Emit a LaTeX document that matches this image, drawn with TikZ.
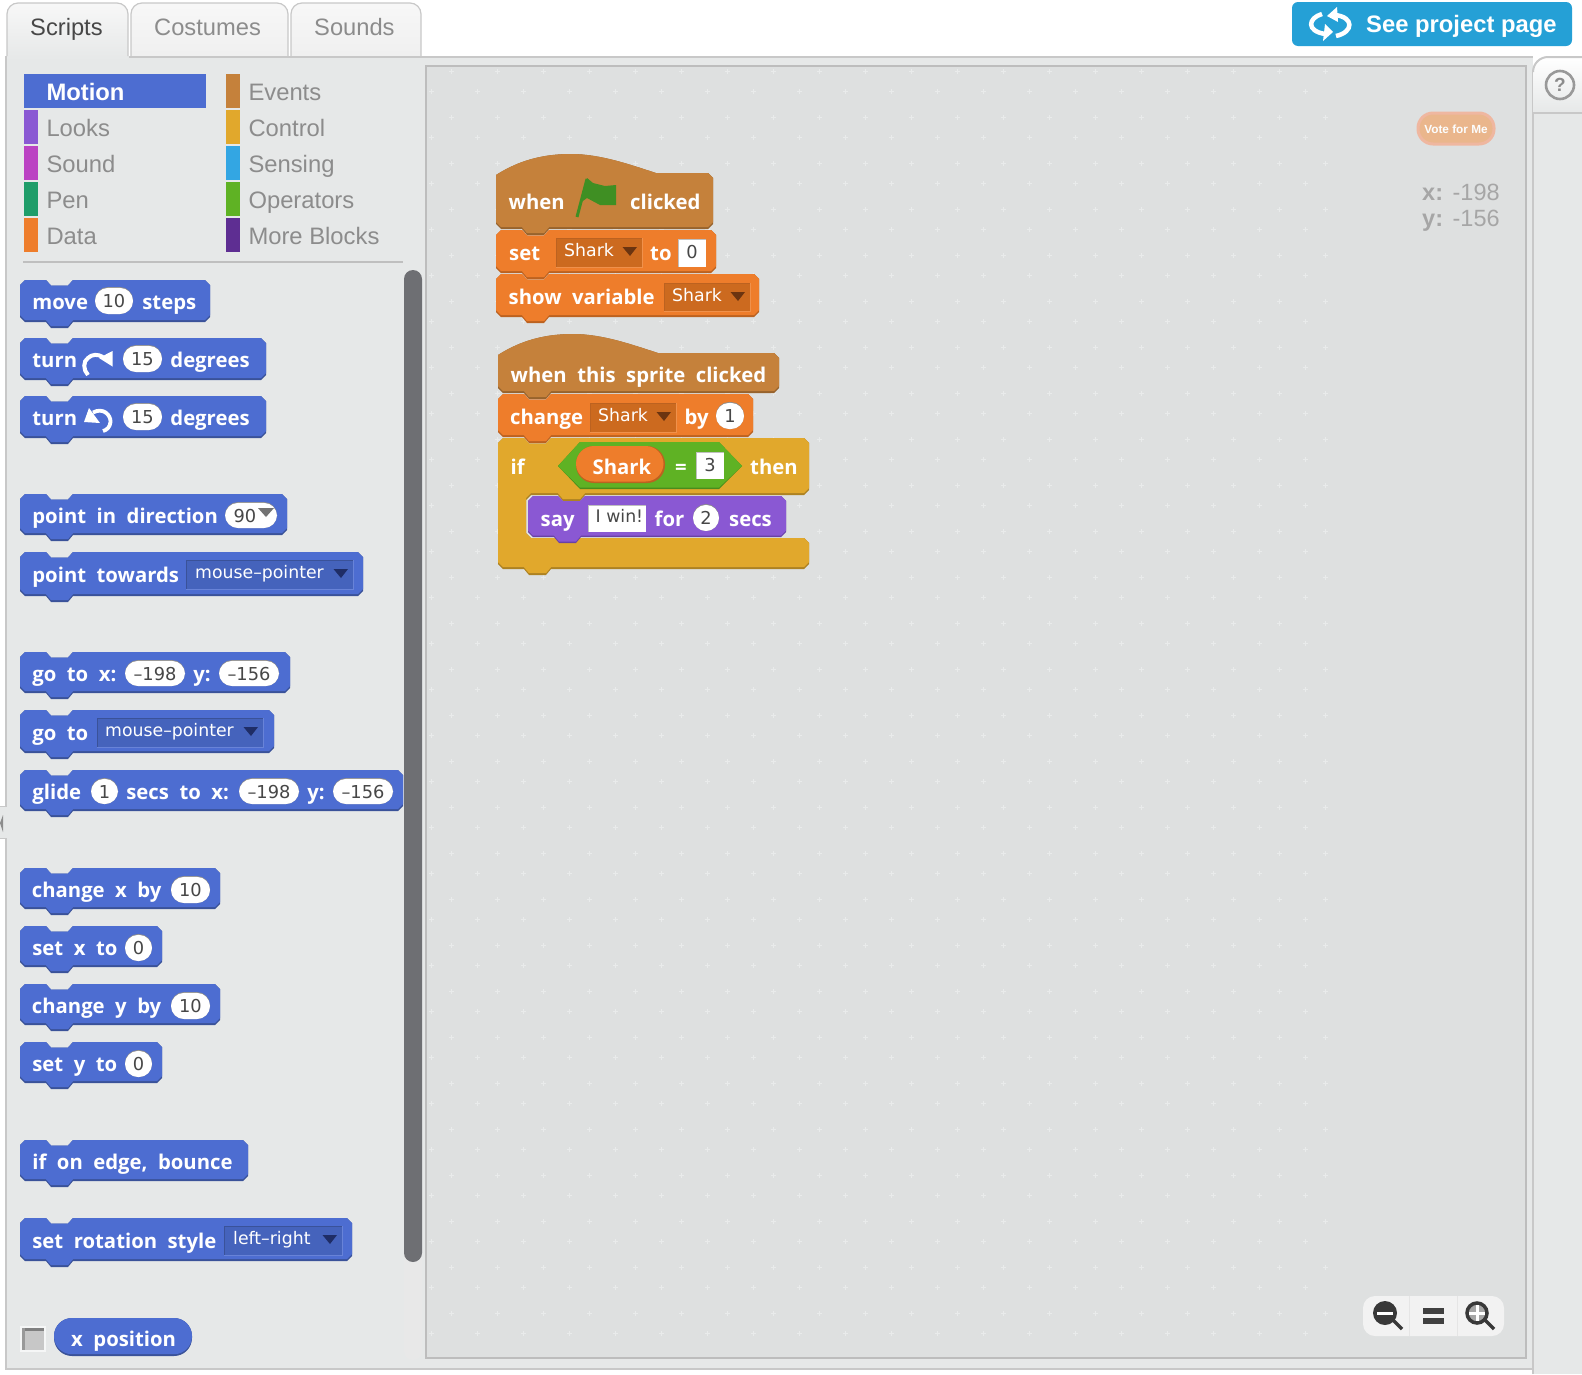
\documentclass[tikz,border=0pt]{standalone}
\usepackage{fontspec}
\setmainfont{Liberation Sans}
\newfontfamily\skblockfont{Open Sans}
\newfontfamily\skinputfont{DejaVu Sans}
\definecolor{panelbg}{HTML}{E6E8E8}
\definecolor{stagebg}{HTML}{DEE0E0}
\definecolor{edgegrey}{HTML}{C8C8C8}
\definecolor{mblue}{HTML}{4D6DD1}
\definecolor{mbluedk}{HTML}{3A5299}
\definecolor{dropblue}{HTML}{4563BC}
\definecolor{mpurple}{HTML}{8A58D3}
\definecolor{mpurpledk}{HTML}{6A41A6}
\definecolor{morange}{HTML}{EE7D2B}
\definecolor{morangedk}{HTML}{BC6220}
\definecolor{droporange}{HTML}{CC6A1F}
\definecolor{mhat}{HTML}{C5813B}
\definecolor{mhatdk}{HTML}{97632D}
\definecolor{mgold}{HTML}{E1A82C}
\definecolor{mgolddk}{HTML}{AD8222}
\definecolor{mgreen}{HTML}{5FB224}
\definecolor{mgreendk}{HTML}{4A8C1C}
\definecolor{msound}{HTML}{BB42C3}
\definecolor{mpen}{HTML}{1F9D69}
\definecolor{msense}{HTML}{33A6E3}
\definecolor{mmore}{HTML}{5E2E92}
\definecolor{btnblue}{HTML}{25A0D6}
\definecolor{flaggreen}{HTML}{3F8F23}
\definecolor{voteedge}{HTML}{EFB7A0}
\definecolor{votefill}{HTML}{EAB68C}
\definecolor{scrolldk}{HTML}{6E6F73}
\definecolor{tridkblue}{HTML}{1F2D66}
\definecolor{tridkorange}{HTML}{6B3410}
\tikzset{
  x=1pt,y=-1pt,
  tabtext/.style={anchor=base west,inner sep=0pt,font=\fontsize{23.7}{28}\selectfont},
  cattext/.style={anchor=base west,inner sep=0pt,text=black!45,font=\fontsize{23.8}{28}\selectfont},
  blocktext/.style={anchor=base west,inner sep=0pt,yshift=-1.4pt,text=white,font={\skblockfont\bfseries\fontsize{20.3}{24}\selectfont\spaceskip=10.5pt\relax}},
  inputtext/.style={anchor=base,inner sep=0pt,text=black!72,font={\skinputfont\fontsize{17.8}{20}\selectfont}},
  droptext/.style={anchor=base west,inner sep=0pt,text=white,font={\skinputfont\fontsize{17.3}{20}\selectfont}},
  coordtext/.style={anchor=base west,inner sep=0pt,text=black!35,font=\fontsize{23.5}{28}\selectfont},
  gridplus/.style={draw=panelbg!88!white,line width=1pt},
}
\newcounter{sknode}
\newcommand\skText[4]{\stepcounter{sknode}\node[#1] (n\arabic{sknode}) at (#2,#3) {#4};}
\newcommand\skPath[4]{({#1+5},#2) -- ({#1+26},#2) -- ({#1+31},{#2+5.5}) -- ({#1+48},{#2+5.5}) -- ({#1+53},#2) -- ({#3-5},#2) -- (#3,{#2+5}) -- (#3,{#4-5}) -- ({#3-5},#4) -- ({#1+53},#4) -- ({#1+48},{#4+6}) -- ({#1+31},{#4+6}) -- ({#1+26},#4) -- ({#1+5},#4) -- (#1,{#4-5}) -- (#1,{#2+5}) -- cycle}
\newcommand\skBlock[6]{\fill[#6] \skPath{#1}{#2}{#3}{#4}; \fill[#5] \skPath{#1}{#2}{#3}{#4-1.8};}
\newcommand\skHatPath[5]{(#1,#2) .. controls ({#1+25},{#2-16}) and ({#1+50},#3) .. ({#1+75},#3) .. controls ({#1+105},#3) and ({#1+135},{#2-10}) .. ({#1+160},{#2-2}) -- ({#4-5},{#2-2}) -- (#4,{#2+3}) -- (#4,{#5-5}) -- ({#4-5},#5) -- ({#1+53},#5) -- ({#1+48},{#5+6}) -- ({#1+31},{#5+6}) -- ({#1+26},#5) -- ({#1+5},#5) -- (#1,{#5-5}) -- cycle}
\newcommand\skHat[5]{\fill[mhatdk] \skHatPath{#1}{#2}{#3}{#4}{#5}; \fill[mhat] \skHatPath{#1}{#2}{#3}{#4}{#5-1.8};}
% pill outline only
\newcommand\skPillBody[4]{\fill[black!45,rounded corners=13pt] (#1,#2) rectangle (#3,#4);
  \fill[white,rounded corners=13pt] ({#1},{#2+0.9}) rectangle (#3,#4);}
% pill input: x1 y1 x2 y2 text
\newcommand\skPill[5]{\skPillBody{#1}{#2}{#3}{#4}
  \skText{inputtext}{{(#1+#3)/2}}{{#2+20}}{#5}}
% square input
\newcommand\skBox[5]{\fill[white] (#1,#2) rectangle (#3,#4);
  \draw[black!25,line width=1pt] (#1,#4) -- (#1,#2) -- (#3,#2);
  \skText{inputtext}{{(#1+#3)/2}}{{#2+19.3}}{#5}}
% dropdown: x1 y1 x2 y2 text-x text fill dark light
\newcommand\skDrop[9]{\fill[#7] (#1,#2) rectangle (#3,#4);
  \draw[#8,line width=1pt] (#1,#4) -- (#1,#2) -- (#3,#2);
  \draw[#9,line width=1pt] (#1,#4) -- (#3,#4) -- (#3,#2);
  \skText{droptext}{#5}{{#2+18.5}}{#6}}
\newcommand\skTri[3]{\fill[#3] ({#1-19.5},{#2+9}) -- ({#1-5},{#2+9}) -- ({#1-12},{#2+18}) -- cycle;}
\begin{document}
\begin{tikzpicture}
\useasboundingbox (0,0) rectangle (1582,1374);
\fill[white] (0,0) rectangle (1582,1374);
% panels
\fill[panelbg] (6,56) rectangle (1533,1369);
\fill[panelbg] (1533,113) rectangle (1582,1374);
% tabs (y axis points down, so 270 is the top of a circle)
\draw[edgegrey,line width=1.2pt,top color=white!97!black,bottom color=black!6] (131,56) -- (131,14) arc[start angle=180,end angle=270,radius=11] -- (277,3) arc[start angle=270,end angle=360,radius=11] -- (288,56);
\draw[edgegrey,line width=1.2pt,top color=white!97!black,bottom color=black!6] (291,56) -- (291,14) arc[start angle=180,end angle=270,radius=11] -- (410,3) arc[start angle=270,end angle=360,radius=11] -- (421,56);
\path[top color=white!97!black,bottom color=panelbg] (7,60) -- (7,14) arc[start angle=180,end angle=270,radius=11] -- (117,3) arc[start angle=270,end angle=360,radius=11] -- (128,60) -- cycle;
\draw[edgegrey,line width=1.2pt] (7,56) -- (7,14) arc[start angle=180,end angle=270,radius=11] -- (117,3) arc[start angle=270,end angle=360,radius=11] -- (128,56);
\draw[edgegrey,line width=2pt] (129,57) -- (1533,57);
\draw[edgegrey,line width=2pt] (6,56) -- (6,806);
\draw[edgegrey,line width=2pt] (6,838) -- (6,1369) -- (1533,1369);
\draw[edgegrey,line width=2pt] (1533,1374) -- (1533,72);
\skText{tabtext,text=black!72}{30}{35}{Scripts}
\skText{tabtext,text=black!45}{154}{35}{Costumes}
\skText{tabtext,text=black!45}{314}{35}{Sounds}
% collapse handle
\fill[panelbg] (0,806) rectangle (7,838);
\draw[edgegrey,line width=1pt] (0,806) -- (7,806) (0,838) -- (7,838);
\fill[black!45] (0,823) -- (3,815) -- (3,832) -- cycle;
% see project page
\fill[btnblue,rounded corners=6pt] (1292,2) rectangle (1572,46);
\draw[white,line width=4.5pt] (1322,14) .. controls (1308,18) and (1306,31) .. (1325,34);
\fill[white] (1325,24) -- (1333,32) -- (1323,41) -- cycle;
\draw[white,line width=4.5pt] (1336,36) .. controls (1354,32) and (1354,17) .. (1335,15);
\fill[white] (1337,7) -- (1327,16) -- (1338,22) -- cycle;
\skText{anchor=base west,inner sep=0pt,text=white,font={\bfseries\fontsize{23.8}{28}\selectfont}}{1366}{32}{See project page}
% help tab
\path[top color=white,bottom color=panelbg] (1533,113) -- (1533,72) arc[start angle=180,end angle=270,radius=15] -- (1582,57) -- (1582,113) -- cycle;
\draw[edgegrey,line width=2pt] (1533,72) arc[start angle=180,end angle=270,radius=15] -- (1582,57);
\draw[edgegrey,line width=2pt] (1533,113) -- (1582,113);
\draw[black!40,line width=2.6pt] (1560,85) circle[radius=14];
\skText{anchor=center,inner sep=0pt,text=black!45,font={\bfseries\fontsize{19}{22}\selectfont}}{1560}{85}{?}
% stage
\fill[stagebg] (426,66) rectangle (1526,1358);
\begin{scope}
\clip (426,66) rectangle (1526,1358);
\foreach \i in {0,...,19} \foreach \j in {0,...,27} {
  \draw[gridplus] ({1325-46*\i-2.5},{71+46*\j}) -- ++(5,0) ({1325-46*\i},{71+46*\j-2.5}) -- ++(0,5);
  \draw[gridplus] ({1305-46*\i-2.5},{91+46*\j}) -- ++(5,0) ({1305-46*\i},{91+46*\j-2.5}) -- ++(0,5);
}
\end{scope}
\draw[black!26,line width=1.4pt] (426,66) rectangle (1526,1358);
% categories
\fill[mblue] (24,74) rectangle (206,108);
\fill[mpurple] (24,110) rectangle (38,144);
\fill[msound] (24,146) rectangle (38,180);
\fill[mpen] (24,182) rectangle (38,216);
\fill[morange] (24,218) rectangle (38,252);
\fill[mhat] (226,74) rectangle (240,108);
\fill[mgold] (226,110) rectangle (240,144);
\fill[msense] (226,146) rectangle (240,180);
\fill[mgreen] (226,182) rectangle (240,216);
\fill[mmore] (226,218) rectangle (240,252);
\skText{anchor=base west,inner sep=0pt,text=white,font={\bfseries\fontsize{23.8}{28}\selectfont}}{46.3}{100}{Motion}
\skText{cattext}{46.3}{136}{Looks}
\skText{cattext}{46.3}{172}{Sound}
\skText{cattext}{46.3}{208}{Pen}
\skText{cattext}{46.3}{244}{Data}
\skText{cattext}{248.3}{100}{Events}
\skText{cattext}{248.3}{136}{Control}
\skText{cattext}{248.3}{172}{Sensing}
\skText{cattext}{248.3}{208}{Operators}
\skText{cattext}{248.3}{244}{More Blocks}
\draw[black!25,line width=1.6pt] (23,262) -- (403,262);
% scrollbar
\fill[black!9,rounded corners=9pt] (404,270) rectangle (422,1360);
\fill[scrolldk,rounded corners=9pt] (404,270) rectangle (422,1262);
% palette blocks
\begin{scope}[blocktext/.append style={xshift=-0.8pt}]
\skBlock{20}{280}{210}{322}{mblue}{mbluedk}
\skText{blocktext}{33}{308}{move}
\skPill{95}{287}{133}{314}{10}
\skText{blocktext}{143}{308}{steps}

\skBlock{20}{338}{266}{380}{mblue}{mbluedk}
\skText{blocktext}{33}{366}{turn}
\draw[white,line width=4pt] (88,375) .. controls (83,370) and (83,361) .. (88,358) .. controls (92,354) and (98,354) .. (103,357);
\fill[white] (99,358) -- (112.5,351) -- (112.5,366.5) -- cycle;
\skPill{123}{345}{162}{372}{15}
\skText{blocktext}{171}{366}{degrees}

\skBlock{20}{396}{266}{438}{mblue}{mbluedk}
\skText{blocktext}{33}{424}{turn}
\draw[white,line width=3.8pt] (93,412.5) .. controls (103,407) and (111,415) .. (110.5,422) .. controls (110,427) and (107,430) .. (103,431);
\fill[white] (84,422) -- (89,408) -- (100,423) -- cycle;
\skPill{123}{403}{162}{430}{15}
\skText{blocktext}{171}{424}{degrees}

\skBlock{20}{494}{287}{535}{mblue}{mbluedk}
\skText{blocktext}{33}{522}{point in direction}
\skPillBody{225}{502}{277}{528}
\skText{inputtext}{245}{522}{90}
\fill[black!55] (258,508) -- (274,508) -- (266,517) -- cycle;

\skBlock{20}{552}{363}{596}{mblue}{mbluedk}
\skText{blocktext}{33}{581}{point towards}
\skDrop{186}{560}{353}{589}{195}{mouse–pointer}{dropblue}{mbluedk}{mblue!85!white}
\skTri{353}{560}{tridkblue}

\skBlock{20}{652}{290}{693}{mblue}{mbluedk}
\skText{blocktext}{33}{680}{go to x:}
\skPill{125}{660}{185}{686}{–198}
\skText{blocktext}{194}{680}{y:}
\skPill{219}{660}{279}{686}{–156}

\skBlock{20}{710}{274}{753}{mblue}{mbluedk}
\skText{blocktext}{33}{739}{go to}
\skDrop{97}{718}{263}{747}{105}{mouse–pointer}{dropblue}{mbluedk}{mblue!85!white}
\skTri{263}{718}{tridkblue}

\skBlock{20}{770}{403}{811}{mblue}{mbluedk}
\skText{blocktext}{33}{798}{glide}
\skPill{91}{778}{118}{804}{1}
\skText{blocktext}{127}{798}{secs to x:}
\skPill{239}{778}{299}{804}{–198}
\skText{blocktext}{308}{798}{y:}
\skPill{333}{778}{393}{804}{–156}

\skBlock{20}{868}{220}{909}{mblue}{mbluedk}
\skText{blocktext}{32.5}{896}{change x by}
\skPill{171}{876}{210}{903}{10}
\skBlock{20}{926}{162}{967}{mblue}{mbluedk}
\skText{blocktext}{33}{954}{set x to}
\skPill{125}{934}{152}{961}{0}
\skBlock{20}{984}{220}{1025}{mblue}{mbluedk}
\skText{blocktext}{32.5}{1012}{change y by}
\skPill{171}{992}{210}{1019}{10}
\skBlock{20}{1042}{162}{1083}{mblue}{mbluedk}
\skText{blocktext}{33}{1070}{set y to}
\skPill{125}{1050}{152}{1077}{0}

\skBlock{20}{1140}{248}{1181}{mblue}{mbluedk}
\skText{blocktext}{33}{1168}{if on edge, bounce}

\skBlock{20}{1218}{352}{1261}{mblue}{mbluedk}
\skText{blocktext}{33}{1247}{set rotation style}
\skDrop{224}{1226}{342}{1255}{233}{left–right}{dropblue}{mbluedk}{mblue!85!white}
\skTri{342}{1226}{tridkblue}
\end{scope}

% checkbox and reporter
\fill[white!60!panelbg] (20,1326) rectangle (46,1352);
\fill[black!22] (22,1328) rectangle (44,1350);
\fill[black!50] (22,1328) rectangle (44,1331);
\fill[black!40] (22,1328) rectangle (25,1350);
\fill[mbluedk,rounded corners=18pt] (54,1318) rectangle (192,1356);
\fill[mblue,rounded corners=18pt] (54,1318) rectangle (192,1354.2);
\skText{blocktext}{71}{1345}{x position}

% script 1
\skHat{496}{175}{154}{713}{229}
\skText{blocktext}{508.5}{208}{when}
\skText{blocktext}{630}{208}{clicked}
\draw[flaggreen,line width=3pt] (577,217) -- (587,179);
\fill[flaggreen] (587,178) -- (593,183) -- (605,186) -- (616,185) -- (616,205) -- (600,205) -- (587,198) -- (580,203) -- cycle;
\skBlock{496}{230}{716}{273}{morange}{morangedk}
\skText{blocktext}{509}{259}{set}
\skDrop{556}{238}{642}{267}{564}{Shark}{droporange}{morangedk}{morange!85!white}
\skTri{642}{238}{tridkorange}
\skText{blocktext}{650}{259}{to}
\skBox{678}{239}{706}{267}{0}
\skBlock{496}{274}{759}{317}{morange}{morangedk}
\skText{blocktext}{508.5}{303}{show variable}
\skDrop{664}{283}{750}{311}{672}{Shark}{droporange}{morangedk}{morange!85!white}
\skTri{750}{283}{tridkorange}

% script 2
\skHat{498}{355}{334}{779}{393}
\skText{blocktext}{510.5}{381}{when this sprite clicked}
\skBlock{498}{394}{753}{437}{morange}{morangedk}
\skText{blocktext}{510}{423}{change}
\skDrop{590}{403}{676}{432}{598}{Shark}{droporange}{morangedk}{morange!85!white}
\skTri{676}{403}{tridkorange}
\skText{blocktext}{684.5}{423}{by}
\skPill{716}{402}{744}{429}{1}
% if block: dark copy, then main
\foreach \c/\o in {mgolddk/0,mgold/1.8} {
\fill[\c] (503,438) -- (524,438) -- (529,443.5) -- (546,443.5) -- (551,438) -- (804,438) -- (809,443) -- (809,{495-5-\o}) -- (804,{495-\o}) -- (585,{495-\o}) -- (580,{501-\o}) -- (563,{501-\o}) -- (558,{495-\o}) -- (531,{495-\o}) -- (526,{500-\o}) -- (526,533) -- (531,538) -- (804,538) -- (809,543) -- (809,{569-5-\o}) -- (804,{569-\o}) -- (551,{569-\o}) -- (546,{575-\o}) -- (529,{575-\o}) -- (524,{569-\o}) -- (503,{569-\o}) -- (498,{564-\o}) -- (498,443) -- cycle;
}
\skText{blocktext}{510.5}{473}{if}
\fill[mgreendk] (558,466) -- (580,442) -- (719,442) -- (742,466) -- (719,489) -- (580,489) -- cycle;
\fill[mgreen] (558,466) -- (580,442) -- (719,442) -- (742,466) -- (719,487.5) -- (580,487.5) -- cycle;
\fill[morangedk,rounded corners=18pt] (576,446) rectangle (665,483);
\fill[morange,rounded corners=18pt] (576,446) rectangle (663.5,481.5);
\skText{blocktext}{592.5}{473}{Shark}
\skText{blocktext}{675}{473}{=}
\skBox{696}{452}{724}{479}{3}
\skText{blocktext}{750}{473}{then}
\fill[mpurpledk] (533,496) -- (558,496) -- (563,501) -- (580,501) -- (585,496) -- (781,496) -- (786,501) -- (786,532) -- (781,537) -- (581,537) -- (576,543) -- (559,543) -- (554,537) -- (533,537) -- (528,532) -- (528,501) -- cycle;
\fill[mpurple] (533,496) -- (558,496) -- (563,501) -- (580,501) -- (585,496) -- (781,496) -- (786,501) -- (786,530.5) -- (781,535.5) -- (581,535.5) -- (576,541.5) -- (559,541.5) -- (554,535.5) -- (533,535.5) -- (528,530.5) -- (528,501) -- cycle;
\skText{blocktext}{540.5}{525}{say}
\fill[white] (588,505) rectangle (646,532);
\draw[black!25,line width=1pt] (588,532) -- (588,505) -- (646,505);
\skText{anchor=base west,inner sep=0pt,text=black!72,font={\skinputfont\fontsize{17.3}{20}\selectfont}}{595.5}{522}{I win!}
\skText{blocktext}{654.5}{525}{for}
\skPill{693}{504}{719}{531}{2}
\skText{blocktext}{729}{525}{secs}

% stage widgets
\draw[voteedge,line width=3pt,fill=votefill,rounded corners=15pt] (1418,113) rectangle (1494,144);
\skText{anchor=center,inner sep=0pt,text=white!90!panelbg,font={\bfseries\fontsize{11.8}{14}\selectfont}}{1456}{129.5}{Vote for Me}
\skText{coordtext}{1422}{200}{\textbf{x:}\hspace{9.5pt}-198}
\skText{coordtext}{1422}{226}{\textbf{y:}\hspace{9.5pt}-156}
% zoom widget
\fill[white!95!black,rounded corners=12pt] (1363,1296) rectangle (1504,1336);
\draw[black!10,line width=1pt] (1409,1296) -- (1409,1336) (1457,1296) -- (1457,1336);
\draw[black!78,line width=3.5pt] (1393,1320) -- (1402,1329);
\fill[black!78] (1385,1313) circle[radius=12];
\fill[white] (1377,1311.5) rectangle (1393,1315);
\draw[black!78,line width=3.5pt] (1485,1320) -- (1494,1329);
\draw[black!78,line width=3.5pt,fill=white!65!black] (1477,1313) circle[radius=10];
\draw[white,line width=3pt] (1469,1313) -- (1485,1313) (1477,1305) -- (1477,1321);
\fill[black!75] (1423,1308) rectangle (1444,1314);
\fill[black!75] (1423,1318) rectangle (1444,1324);
\end{tikzpicture}
\end{document}
